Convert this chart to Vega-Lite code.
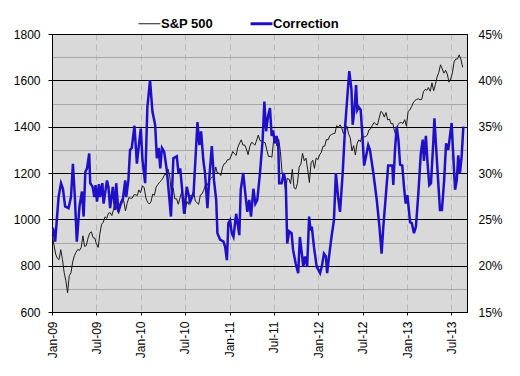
{
  "$schema": "https://vega.github.io/schema/vega-lite/v6.json",
  "autosize": "none",
  "width": 415,
  "height": 278,
  "padding": {"left": 52, "top": 34, "right": 53, "bottom": 64},
  "background": "white",
  "config": {
    "font": "Liberation Sans",
    "view": {"fill": "#d9d9d9", "stroke": "#000000", "strokeWidth": 1},
    "axis": {"labelFont": "Liberation Sans", "labelFontSize": 12, "labelColor": "#000000", "domainColor": "#000000", "tickColor": "#000000"}
  },
  "datasets": {
    "sp": [
      {"date": "2009-01-02", "value": 932}, {"date": "2009-01-09", "value": 890}, {"date": "2009-01-16", "value": 850}, {"date": "2009-01-23", "value": 832}, {"date": "2009-01-30", "value": 826}, {"date": "2009-02-06", "value": 869}, {"date": "2009-02-13", "value": 827}, {"date": "2009-02-20", "value": 770}, {"date": "2009-02-27", "value": 735}, {"date": "2009-03-06", "value": 683}, {"date": "2009-03-13", "value": 757}, {"date": "2009-03-20", "value": 769}, {"date": "2009-03-27", "value": 816}, {"date": "2009-04-03", "value": 843}, {"date": "2009-04-09", "value": 857}, {"date": "2009-04-17", "value": 870}, {"date": "2009-04-24", "value": 866}, {"date": "2009-05-01", "value": 878}, {"date": "2009-05-08", "value": 929}, {"date": "2009-05-15", "value": 883}, {"date": "2009-05-22", "value": 887}, {"date": "2009-05-29", "value": 919}, {"date": "2009-06-05", "value": 940}, {"date": "2009-06-12", "value": 946}, {"date": "2009-06-19", "value": 921}, {"date": "2009-06-26", "value": 919}, {"date": "2009-07-02", "value": 896}, {"date": "2009-07-10", "value": 879}, {"date": "2009-07-17", "value": 940}, {"date": "2009-07-24", "value": 979}, {"date": "2009-07-31", "value": 988}, {"date": "2009-08-07", "value": 1011}, {"date": "2009-08-14", "value": 1004}, {"date": "2009-08-21", "value": 1026}, {"date": "2009-08-28", "value": 1029}, {"date": "2009-09-04", "value": 1016}, {"date": "2009-09-11", "value": 1043}, {"date": "2009-09-18", "value": 1068}, {"date": "2009-09-25", "value": 1044}, {"date": "2009-10-02", "value": 1025}, {"date": "2009-10-09", "value": 1072}, {"date": "2009-10-16", "value": 1088}, {"date": "2009-10-23", "value": 1080}, {"date": "2009-10-30", "value": 1036}, {"date": "2009-11-06", "value": 1069}, {"date": "2009-11-13", "value": 1094}, {"date": "2009-11-20", "value": 1091}, {"date": "2009-11-27", "value": 1092}, {"date": "2009-12-04", "value": 1106}, {"date": "2009-12-11", "value": 1106}, {"date": "2009-12-18", "value": 1103}, {"date": "2009-12-24", "value": 1127}, {"date": "2009-12-31", "value": 1115},
      {"date": "2010-01-08", "value": 1145}, {"date": "2010-01-15", "value": 1136}, {"date": "2010-01-22", "value": 1092}, {"date": "2010-01-29", "value": 1074}, {"date": "2010-02-05", "value": 1066}, {"date": "2010-02-12", "value": 1076}, {"date": "2010-02-19", "value": 1109}, {"date": "2010-02-26", "value": 1104}, {"date": "2010-03-05", "value": 1139}, {"date": "2010-03-12", "value": 1150}, {"date": "2010-03-19", "value": 1160}, {"date": "2010-03-26", "value": 1167}, {"date": "2010-04-02", "value": 1178}, {"date": "2010-04-09", "value": 1194}, {"date": "2010-04-16", "value": 1192}, {"date": "2010-04-23", "value": 1217}, {"date": "2010-04-30", "value": 1187}, {"date": "2010-05-07", "value": 1111}, {"date": "2010-05-14", "value": 1136}, {"date": "2010-05-21", "value": 1088}, {"date": "2010-05-28", "value": 1089}, {"date": "2010-06-04", "value": 1065}, {"date": "2010-06-11", "value": 1092}, {"date": "2010-06-18", "value": 1118}, {"date": "2010-06-25", "value": 1077}, {"date": "2010-07-02", "value": 1023}, {"date": "2010-07-09", "value": 1078}, {"date": "2010-07-16", "value": 1065}, {"date": "2010-07-23", "value": 1103}, {"date": "2010-07-30", "value": 1102}, {"date": "2010-08-06", "value": 1122}, {"date": "2010-08-13", "value": 1079}, {"date": "2010-08-20", "value": 1072}, {"date": "2010-08-27", "value": 1065}, {"date": "2010-09-03", "value": 1105}, {"date": "2010-09-10", "value": 1110}, {"date": "2010-09-17", "value": 1126}, {"date": "2010-09-24", "value": 1149}, {"date": "2010-10-01", "value": 1146}, {"date": "2010-10-08", "value": 1165}, {"date": "2010-10-15", "value": 1176}, {"date": "2010-10-22", "value": 1183}, {"date": "2010-10-29", "value": 1183}, {"date": "2010-11-05", "value": 1226}, {"date": "2010-11-12", "value": 1199}, {"date": "2010-11-19", "value": 1200}, {"date": "2010-11-26", "value": 1189}, {"date": "2010-12-03", "value": 1225}, {"date": "2010-12-10", "value": 1240}, {"date": "2010-12-17", "value": 1244}, {"date": "2010-12-23", "value": 1257}, {"date": "2010-12-31", "value": 1258},
      {"date": "2011-01-07", "value": 1272}, {"date": "2011-01-14", "value": 1293}, {"date": "2011-01-21", "value": 1283}, {"date": "2011-01-28", "value": 1276}, {"date": "2011-02-04", "value": 1311}, {"date": "2011-02-11", "value": 1329}, {"date": "2011-02-18", "value": 1343}, {"date": "2011-02-25", "value": 1320}, {"date": "2011-03-04", "value": 1321}, {"date": "2011-03-11", "value": 1304}, {"date": "2011-03-18", "value": 1279}, {"date": "2011-03-25", "value": 1314}, {"date": "2011-04-01", "value": 1332}, {"date": "2011-04-08", "value": 1328}, {"date": "2011-04-15", "value": 1320}, {"date": "2011-04-21", "value": 1337}, {"date": "2011-04-29", "value": 1364}, {"date": "2011-05-06", "value": 1340}, {"date": "2011-05-13", "value": 1338}, {"date": "2011-05-20", "value": 1333}, {"date": "2011-05-27", "value": 1331}, {"date": "2011-06-03", "value": 1300}, {"date": "2011-06-10", "value": 1271}, {"date": "2011-06-17", "value": 1272}, {"date": "2011-06-24", "value": 1268}, {"date": "2011-07-01", "value": 1340}, {"date": "2011-07-08", "value": 1344}, {"date": "2011-07-15", "value": 1316}, {"date": "2011-07-22", "value": 1345}, {"date": "2011-07-29", "value": 1292}, {"date": "2011-08-05", "value": 1199}, {"date": "2011-08-12", "value": 1179}, {"date": "2011-08-19", "value": 1124}, {"date": "2011-08-26", "value": 1177}, {"date": "2011-09-02", "value": 1174}, {"date": "2011-09-09", "value": 1154}, {"date": "2011-09-16", "value": 1216}, {"date": "2011-09-23", "value": 1136}, {"date": "2011-09-30", "value": 1131}, {"date": "2011-10-07", "value": 1155}, {"date": "2011-10-14", "value": 1225}, {"date": "2011-10-21", "value": 1238}, {"date": "2011-10-28", "value": 1285}, {"date": "2011-11-04", "value": 1253}, {"date": "2011-11-11", "value": 1264}, {"date": "2011-11-18", "value": 1216}, {"date": "2011-11-25", "value": 1159}, {"date": "2011-12-02", "value": 1244}, {"date": "2011-12-09", "value": 1255}, {"date": "2011-12-16", "value": 1220}, {"date": "2011-12-23", "value": 1265}, {"date": "2011-12-30", "value": 1258},
      {"date": "2012-01-06", "value": 1278}, {"date": "2012-01-13", "value": 1289}, {"date": "2012-01-20", "value": 1315}, {"date": "2012-01-27", "value": 1316}, {"date": "2012-02-03", "value": 1345}, {"date": "2012-02-10", "value": 1343}, {"date": "2012-02-17", "value": 1361}, {"date": "2012-02-24", "value": 1366}, {"date": "2012-03-02", "value": 1370}, {"date": "2012-03-09", "value": 1371}, {"date": "2012-03-16", "value": 1404}, {"date": "2012-03-23", "value": 1397}, {"date": "2012-03-30", "value": 1408}, {"date": "2012-04-05", "value": 1398}, {"date": "2012-04-13", "value": 1370}, {"date": "2012-04-20", "value": 1379}, {"date": "2012-04-27", "value": 1403}, {"date": "2012-05-04", "value": 1369}, {"date": "2012-05-11", "value": 1353}, {"date": "2012-05-18", "value": 1295}, {"date": "2012-05-25", "value": 1318}, {"date": "2012-06-01", "value": 1278}, {"date": "2012-06-08", "value": 1326}, {"date": "2012-06-15", "value": 1343}, {"date": "2012-06-22", "value": 1335}, {"date": "2012-06-29", "value": 1362}, {"date": "2012-07-06", "value": 1355}, {"date": "2012-07-13", "value": 1357}, {"date": "2012-07-20", "value": 1363}, {"date": "2012-07-27", "value": 1386}, {"date": "2012-08-03", "value": 1391}, {"date": "2012-08-10", "value": 1406}, {"date": "2012-08-17", "value": 1418}, {"date": "2012-08-24", "value": 1411}, {"date": "2012-08-31", "value": 1407}, {"date": "2012-09-07", "value": 1438}, {"date": "2012-09-14", "value": 1466}, {"date": "2012-09-21", "value": 1460}, {"date": "2012-09-28", "value": 1441}, {"date": "2012-10-05", "value": 1461}, {"date": "2012-10-12", "value": 1429}, {"date": "2012-10-19", "value": 1433}, {"date": "2012-10-26", "value": 1412}, {"date": "2012-11-02", "value": 1414}, {"date": "2012-11-09", "value": 1380}, {"date": "2012-11-16", "value": 1360}, {"date": "2012-11-23", "value": 1409}, {"date": "2012-11-30", "value": 1416}, {"date": "2012-12-07", "value": 1418}, {"date": "2012-12-14", "value": 1414}, {"date": "2012-12-21", "value": 1430}, {"date": "2012-12-28", "value": 1402},
      {"date": "2013-01-04", "value": 1466}, {"date": "2013-01-11", "value": 1472}, {"date": "2013-01-18", "value": 1486}, {"date": "2013-01-25", "value": 1503}, {"date": "2013-02-01", "value": 1513}, {"date": "2013-02-08", "value": 1518}, {"date": "2013-02-15", "value": 1520}, {"date": "2013-02-22", "value": 1516}, {"date": "2013-03-01", "value": 1518}, {"date": "2013-03-08", "value": 1551}, {"date": "2013-03-15", "value": 1561}, {"date": "2013-03-22", "value": 1557}, {"date": "2013-03-28", "value": 1569}, {"date": "2013-04-05", "value": 1553}, {"date": "2013-04-12", "value": 1589}, {"date": "2013-04-19", "value": 1555}, {"date": "2013-04-26", "value": 1582}, {"date": "2013-05-03", "value": 1614}, {"date": "2013-05-10", "value": 1634}, {"date": "2013-05-17", "value": 1667}, {"date": "2013-05-24", "value": 1650}, {"date": "2013-05-31", "value": 1631}, {"date": "2013-06-07", "value": 1643}, {"date": "2013-06-14", "value": 1627}, {"date": "2013-06-21", "value": 1592}, {"date": "2013-06-28", "value": 1606}, {"date": "2013-07-05", "value": 1632}, {"date": "2013-07-12", "value": 1680}, {"date": "2013-07-19", "value": 1692}, {"date": "2013-07-26", "value": 1692}, {"date": "2013-08-02", "value": 1710}, {"date": "2013-08-09", "value": 1691}, {"date": "2013-08-16", "value": 1656}
    ],
    "corr": [
      {"date": "2009-01-05", "value": 24.1}, {"date": "2009-01-14", "value": 22.6}, {"date": "2009-01-28", "value": 27.4}, {"date": "2009-02-07", "value": 28.9}, {"date": "2009-02-15", "value": 28.3}, {"date": "2009-02-24", "value": 26.4}, {"date": "2009-03-10", "value": 26.2}, {"date": "2009-03-20", "value": 27.4}, {"date": "2009-03-28", "value": 31.0}, {"date": "2009-04-05", "value": 27.4}, {"date": "2009-04-13", "value": 22.6}, {"date": "2009-04-24", "value": 26.4}, {"date": "2009-05-04", "value": 28.0}, {"date": "2009-05-11", "value": 25.3}, {"date": "2009-05-18", "value": 30.1}, {"date": "2009-05-25", "value": 30.5}, {"date": "2009-06-03", "value": 32.1}, {"date": "2009-06-07", "value": 28.9}, {"date": "2009-06-17", "value": 28.5}, {"date": "2009-06-24", "value": 27.4}, {"date": "2009-06-29", "value": 28.7}, {"date": "2009-07-05", "value": 26.9}, {"date": "2009-07-13", "value": 28.8}, {"date": "2009-07-18", "value": 27.4}, {"date": "2009-07-27", "value": 28.9}, {"date": "2009-08-01", "value": 26.7}, {"date": "2009-08-15", "value": 29.2}, {"date": "2009-08-21", "value": 28.5}, {"date": "2009-08-28", "value": 26.2}, {"date": "2009-09-08", "value": 28.5}, {"date": "2009-09-17", "value": 26.0}, {"date": "2009-09-22", "value": 28.9}, {"date": "2009-10-01", "value": 25.8}, {"date": "2009-10-11", "value": 26.7}, {"date": "2009-10-19", "value": 27.1}, {"date": "2009-10-29", "value": 29.2}, {"date": "2009-11-02", "value": 27.4}, {"date": "2009-11-11", "value": 29.2}, {"date": "2009-11-18", "value": 32.5}, {"date": "2009-11-25", "value": 32.7}, {"date": "2009-12-06", "value": 35.1}, {"date": "2009-12-16", "value": 31.0}, {"date": "2009-12-22", "value": 32.5},
      {"date": "2010-01-01", "value": 34.8}, {"date": "2010-01-08", "value": 31.4}, {"date": "2010-01-19", "value": 28.9}, {"date": "2010-01-28", "value": 37.1}, {"date": "2010-02-08", "value": 40.0}, {"date": "2010-02-18", "value": 36.6}, {"date": "2010-03-01", "value": 35.2}, {"date": "2010-03-08", "value": 31.6}, {"date": "2010-03-16", "value": 32.7}, {"date": "2010-03-22", "value": 30.5}, {"date": "2010-03-29", "value": 32.7}, {"date": "2010-04-07", "value": 32.3}, {"date": "2010-04-18", "value": 30.3}, {"date": "2010-05-05", "value": 25.3}, {"date": "2010-05-15", "value": 31.6}, {"date": "2010-05-29", "value": 31.8}, {"date": "2010-06-05", "value": 30.0}, {"date": "2010-06-12", "value": 30.5}, {"date": "2010-06-19", "value": 28.5}, {"date": "2010-06-28", "value": 25.6}, {"date": "2010-07-09", "value": 28.5}, {"date": "2010-07-23", "value": 26.9}, {"date": "2010-08-06", "value": 27.8}, {"date": "2010-08-22", "value": 35.5}, {"date": "2010-08-30", "value": 33.0}, {"date": "2010-09-06", "value": 34.5}, {"date": "2010-09-15", "value": 31.4}, {"date": "2010-09-22", "value": 30.0}, {"date": "2010-10-02", "value": 26.2}, {"date": "2010-10-10", "value": 29.6}, {"date": "2010-10-20", "value": 32.9}, {"date": "2010-10-29", "value": 29.2}, {"date": "2010-11-07", "value": 27.1}, {"date": "2010-11-12", "value": 23.5}, {"date": "2010-11-23", "value": 22.8}, {"date": "2010-12-07", "value": 22.6}, {"date": "2010-12-14", "value": 22.0}, {"date": "2010-12-21", "value": 20.6}, {"date": "2010-12-27", "value": 24.6},
      {"date": "2011-01-03", "value": 24.9}, {"date": "2011-01-10", "value": 23.5}, {"date": "2011-01-17", "value": 23.1}, {"date": "2011-01-28", "value": 25.6}, {"date": "2011-02-02", "value": 24.7}, {"date": "2011-02-10", "value": 23.3}, {"date": "2011-02-16", "value": 28.2}, {"date": "2011-02-26", "value": 30.0}, {"date": "2011-03-05", "value": 28.2}, {"date": "2011-03-15", "value": 25.8}, {"date": "2011-03-23", "value": 27.1}, {"date": "2011-03-30", "value": 25.3}, {"date": "2011-04-09", "value": 28.3}, {"date": "2011-04-17", "value": 26.7}, {"date": "2011-04-25", "value": 27.1}, {"date": "2011-05-06", "value": 30.0}, {"date": "2011-05-17", "value": 33.6}, {"date": "2011-05-24", "value": 37.7}, {"date": "2011-05-31", "value": 34.5}, {"date": "2011-06-08", "value": 36.1}, {"date": "2011-06-16", "value": 37.0}, {"date": "2011-06-23", "value": 34.0}, {"date": "2011-06-29", "value": 34.6}, {"date": "2011-07-06", "value": 33.2}, {"date": "2011-07-13", "value": 34.0}, {"date": "2011-07-20", "value": 33.2}, {"date": "2011-07-24", "value": 28.9}, {"date": "2011-08-03", "value": 28.9}, {"date": "2011-08-12", "value": 30.0}, {"date": "2011-08-20", "value": 28.9}, {"date": "2011-08-26", "value": 22.4}, {"date": "2011-09-03", "value": 23.7}, {"date": "2011-09-13", "value": 23.5}, {"date": "2011-09-19", "value": 21.7}, {"date": "2011-09-30", "value": 20.2}, {"date": "2011-10-10", "value": 19.2}, {"date": "2011-10-17", "value": 23.1}, {"date": "2011-10-25", "value": 21.3}, {"date": "2011-10-31", "value": 19.9}, {"date": "2011-11-07", "value": 21.0}, {"date": "2011-11-16", "value": 19.9}, {"date": "2011-11-24", "value": 25.3}, {"date": "2011-11-30", "value": 23.8}, {"date": "2011-12-05", "value": 24.2}, {"date": "2011-12-14", "value": 22.0}, {"date": "2011-12-25", "value": 19.9},
      {"date": "2012-01-08", "value": 19.2}, {"date": "2012-01-15", "value": 19.9}, {"date": "2012-01-24", "value": 21.3}, {"date": "2012-02-01", "value": 21.0}, {"date": "2012-02-06", "value": 19.2}, {"date": "2012-02-14", "value": 21.0}, {"date": "2012-02-24", "value": 23.1}, {"date": "2012-03-05", "value": 24.9}, {"date": "2012-03-13", "value": 30.0}, {"date": "2012-03-22", "value": 27.4}, {"date": "2012-03-30", "value": 25.8}, {"date": "2012-04-10", "value": 30.0}, {"date": "2012-04-20", "value": 35.0}, {"date": "2012-04-29", "value": 38.2}, {"date": "2012-05-07", "value": 41.0}, {"date": "2012-05-16", "value": 39.0}, {"date": "2012-05-21", "value": 35.2}, {"date": "2012-05-28", "value": 36.8}, {"date": "2012-06-04", "value": 39.5}, {"date": "2012-06-09", "value": 36.8}, {"date": "2012-06-15", "value": 37.1}, {"date": "2012-06-23", "value": 36.8}, {"date": "2012-07-01", "value": 33.6}, {"date": "2012-07-07", "value": 30.8}, {"date": "2012-07-15", "value": 31.8}, {"date": "2012-07-24", "value": 33.0}, {"date": "2012-07-31", "value": 32.5}, {"date": "2012-08-14", "value": 30.0}, {"date": "2012-08-28", "value": 27.1}, {"date": "2012-09-08", "value": 24.2}, {"date": "2012-09-17", "value": 21.3}, {"date": "2012-09-24", "value": 24.2}, {"date": "2012-10-05", "value": 27.8}, {"date": "2012-10-14", "value": 30.8}, {"date": "2012-10-21", "value": 30.8}, {"date": "2012-10-31", "value": 30.8}, {"date": "2012-11-04", "value": 28.7}, {"date": "2012-11-11", "value": 32.5}, {"date": "2012-11-18", "value": 35.0}, {"date": "2012-11-25", "value": 33.6}, {"date": "2012-12-02", "value": 30.9}, {"date": "2012-12-11", "value": 30.8}, {"date": "2012-12-18", "value": 28.5}, {"date": "2012-12-25", "value": 26.7},
      {"date": "2013-01-01", "value": 27.6}, {"date": "2013-01-12", "value": 24.7}, {"date": "2013-01-19", "value": 24.6}, {"date": "2013-01-28", "value": 23.5}, {"date": "2013-02-05", "value": 24.2}, {"date": "2013-02-15", "value": 27.8}, {"date": "2013-02-25", "value": 32.1}, {"date": "2013-03-05", "value": 33.6}, {"date": "2013-03-10", "value": 31.3}, {"date": "2013-03-18", "value": 34.0}, {"date": "2013-03-25", "value": 31.0}, {"date": "2013-04-01", "value": 28.7}, {"date": "2013-04-08", "value": 28.9}, {"date": "2013-04-18", "value": 33.6}, {"date": "2013-04-22", "value": 35.9}, {"date": "2013-04-29", "value": 32.8}, {"date": "2013-05-08", "value": 28.9}, {"date": "2013-05-15", "value": 26.0}, {"date": "2013-05-23", "value": 26.0}, {"date": "2013-06-01", "value": 29.2}, {"date": "2013-06-09", "value": 33.2}, {"date": "2013-06-18", "value": 32.5}, {"date": "2013-06-25", "value": 34.0}, {"date": "2013-07-02", "value": 35.4}, {"date": "2013-07-06", "value": 33.2}, {"date": "2013-07-16", "value": 28.2}, {"date": "2013-07-23", "value": 29.2}, {"date": "2013-07-29", "value": 31.9}, {"date": "2013-08-05", "value": 30.0}, {"date": "2013-08-12", "value": 31.8}, {"date": "2013-08-19", "value": 35.0}
    ]
  },
  "layer": [
    {
      "data": {"name": "sp"},
      "mark": {"type": "line", "strokeWidth": 1, "interpolate": "linear"},
      "encoding": {
        "x": {
          "field": "date", "type": "temporal",
          "scale": {"type": "utc", "domain": [{"year": 2009, "month": 1, "date": 1, "utc": true}, {"year": 2013, "month": 9, "date": 3, "utc": true}]},
          "axis": {
            "title": null,
            "labelExpr": "utcFormat(datum.value, '%b-%y')",
            "values": [
              {"year": 2009, "month": 1, "date": 1, "utc": true}, {"year": 2009, "month": 7, "date": 1, "utc": true},
              {"year": 2010, "month": 1, "date": 1, "utc": true}, {"year": 2010, "month": 7, "date": 1, "utc": true},
              {"year": 2011, "month": 1, "date": 1, "utc": true}, {"year": 2011, "month": 7, "date": 1, "utc": true},
              {"year": 2012, "month": 1, "date": 1, "utc": true}, {"year": 2012, "month": 7, "date": 1, "utc": true},
              {"year": 2013, "month": 1, "date": 1, "utc": true}, {"year": 2013, "month": 7, "date": 1, "utc": true}
            ],
            "labelAngle": -90, "labelAlign": "right", "labelBaseline": "middle", "labelPadding": 6, "tickSize": 3,
            "grid": true, "gridColor": "#b8b8b8", "gridDash": [6, 4], "gridWidth": 1,
            "domainColor": "#000000", "labelOverlap": false, "labelFlush": false
          }
        },
        "y": {
          "field": "value", "type": "quantitative",
          "scale": {"domain": [600, 1800], "nice": false, "zero": false},
          "axis": {
            "title": null, "orient": "left",
            "values": [600, 700, 800, 900, 1000, 1100, 1200, 1300, 1400, 1500, 1600, 1700, 1800],
            "labelExpr": "datum.value % 200 === 0 ? datum.value : ''",
            "tickSize": 4, "labelPadding": 8,
            "tickOpacity": {"condition": {"test": "datum.value % 200 === 0", "value": 1}, "value": 0},
            "grid": true,
            "gridColor": {"condition": {"test": "datum.value % 200 === 0", "value": "#000000"}, "value": "#a6a6a6"},
            "gridWidth": 1
          }
        },
        "color": {
          "datum": "S&P 500",
          "scale": {"domain": ["S&P 500", "Correction"], "range": ["#1a1a1a", "#1f10c8"]},
          "legend": {
            "title": null, "orient": "none", "legendX": 91, "legendY": -17, "direction": "horizontal",
            "symbolType": "stroke", "symbolSize": 480, "symbolStrokeWidth": 1.5,
            "labelFont": "Liberation Sans", "labelFontSize": 13, "labelFontWeight": "bold", "labelColor": "#000000",
            "labelOffset": 5, "columnPadding": 30,
            "encode": {"symbols": {"update": {"strokeWidth": {"signal": "datum.value === 'Correction' ? 3 : 1"}}}}
          }
        }
      }
    },
    {
      "data": {"name": "corr"},
      "mark": {"type": "line", "strokeWidth": 2.5, "interpolate": "linear"},
      "encoding": {
        "x": {"field": "date", "type": "temporal"},
        "y": {
          "field": "value", "type": "quantitative",
          "scale": {"domain": [15, 45], "nice": false, "zero": false},
          "axis": {
            "title": null, "orient": "right", "values": [15, 20, 25, 30, 35, 40, 45],
            "labelExpr": "datum.value + '%'", "tickSize": 0, "labelPadding": 11, "grid": false,
            "domainColor": "#000000"
          }
        },
        "color": {"datum": "Correction"}
      }
    }
  ],
  "resolve": {"scale": {"y": "independent"}}
}
